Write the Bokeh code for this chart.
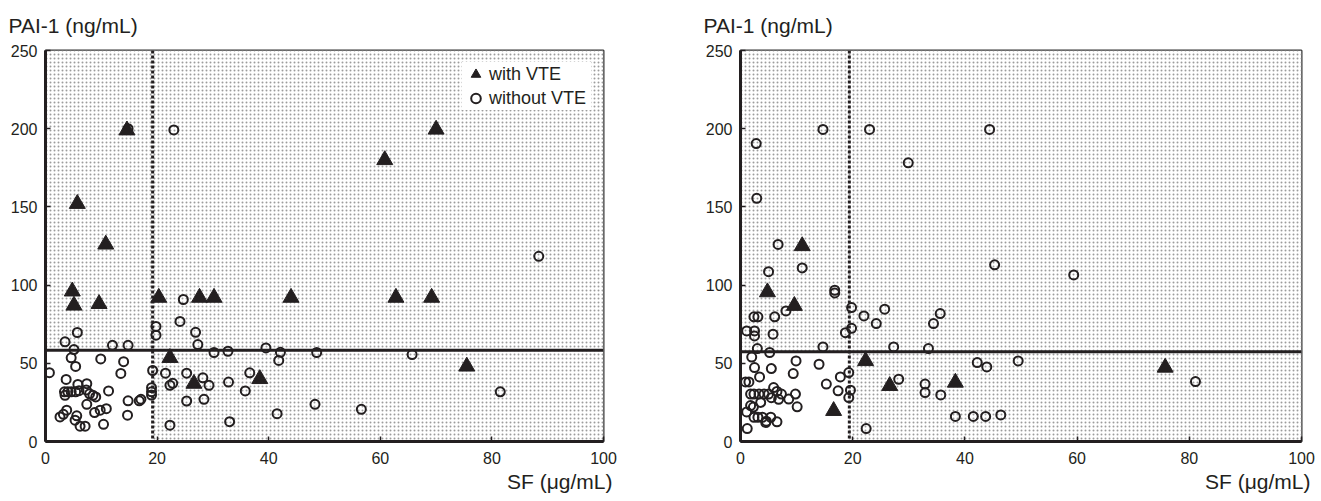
from bokeh.plotting import figure
from bokeh.layouts import row
from bokeh.models import Range1d, FixedTicker, Span, Legend, LegendItem, Title
from bokeh.embed import file_html
from bokeh.resources import INLINE

# ---------------- data ----------------
# Left panel
left_vte_sf = [14.6, 5.7, 10.8, 4.8, 5.1, 9.6, 20.3, 27.6, 30.2, 44.0, 22.3, 26.6, 38.4,
               70.0, 60.8, 62.8, 69.2, 75.5]
left_vte_pai = [199, 152, 126, 96, 87, 88, 92, 92, 92, 92, 53.5, 37, 40,
                199.5, 180, 92, 92, 48]

left_novte_sf = [23.0, 14.8, 88.4, 24.7, 24.1, 19.8, 19.8, 26.9, 27.3, 30.2, 32.7, 39.5,
                 42.1, 41.8, 48.6, 65.7, 5.7, 3.5, 5.1, 4.6, 5.4, 9.9, 12.0, 14.8, 14.0,
                 13.5, 0.7, 3.7, 5.8, 7.4, 3.4, 4.0, 4.6, 5.4, 6.0, 7.3, 7.9, 8.5, 9.0,
                 3.5, 7.4, 11.3, 14.8, 16.8, 17.1, 3.8, 3.2, 2.6, 8.8, 9.8, 10.9, 5.6,
                 5.3, 6.2, 7.1, 10.4, 14.7, 19.2, 19.0, 19.0, 19.0, 21.5, 25.3, 28.2,
                 29.3, 22.3, 22.8, 32.8, 36.6, 35.8, 25.3, 28.4, 48.3, 41.5, 22.3, 33.0,
                 81.5, 56.6]
left_novte_pai = [199.2, 200, 118.4, 90.8, 76.8, 73.6, 68.0, 69.8, 62.0, 56.9, 57.7, 59.8,
                  57.0, 51.8, 56.9, 55.6, 69.7, 63.7, 58.8, 53.5, 48.0, 52.8, 61.5, 61.5, 51.0,
                  43.5, 44.0, 39.7, 36.5, 37.0, 31.8, 31.8, 31.8, 31.8, 32.5, 33.0, 30.5, 29.5, 28.5,
                  29.5, 23.8, 32.3, 26.0, 26.0, 27.0, 20.0, 17.4, 15.7, 18.5, 20.0, 21.0, 16.4,
                  13.6, 9.8, 9.8, 11.0, 16.8, 45.4, 34.4, 31.8, 29.7, 43.7, 43.7, 40.7,
                  35.9, 35.9, 37.2, 38.0, 43.9, 32.3, 25.9, 27.0, 23.8, 17.8, 10.4, 12.7,
                  31.8, 20.6]

# Right panel
right_vte_sf = [11.0, 4.8, 9.6, 22.3, 26.6, 38.3, 16.6, 75.7]
right_vte_pai = [125, 95.5, 86.8, 51.5, 35.6, 37.7, 19.6, 47.3]

right_novte_sf = [2.8, 2.9, 14.7, 23.0, 29.9, 44.4, 6.7, 11.0, 5.0, 16.8, 16.8, 2.4, 3.1,
                  6.1, 8.1, 1.1, 2.5, 2.5, 5.8, 3.0, 18.7, 19.8, 19.8, 22.0, 24.2, 25.7,
                  14.7, 27.3, 33.5, 34.4, 35.6, 2.0, 5.2, 9.9, 2.5, 5.5, 3.4, 0.9, 1.5,
                  9.4, 14.0, 15.3, 17.8, 19.3, 17.4, 19.6, 19.3, 28.2, 32.9, 32.9, 35.7,
                  42.2, 43.9, 38.3, 41.5, 43.7, 46.4, 22.4, 1.2, 45.3, 59.4, 49.5, 81.1,
                  1.8, 2.4, 3.3, 4.2, 5.0, 5.9, 6.5, 7.3, 8.6, 9.8, 10.1, 1.8, 2.3, 3.6,
                  1.1, 2.4, 3.1, 3.9, 4.6, 5.4, 6.5, 4.5, 6.8, 5.5]
right_novte_pai = [190.5, 155.5, 199.5, 199.5, 178.2, 199.5, 126, 111, 108.6, 96.7, 95, 79.7, 79.7,
                   79.7, 83.5, 70.7, 70.7, 67.5, 68.6, 59.4, 69.6, 72.4, 85.6, 80.3, 75.4, 84.6,
                   60.5, 60.5, 59.4, 75.4, 81.8, 54.0, 56.9, 51.5, 47.3, 46.6, 41.3, 38.1, 38.1,
                   43.4, 49.4, 36.7, 41.3, 44.1, 32.4, 32.8, 28.1, 39.8, 36.7, 31.3, 29.8,
                   50.5, 47.7, 16.0, 16.0, 16.0, 17.0, 8.3, 8.3, 113, 106.5, 51.5, 38.3,
                   30.3, 30.3, 30.3, 30.3, 30.3, 34.5, 32.0, 30.3, 27.1, 30.3, 22.2, 23.0, 22.0, 25.0,
                   18.9, 15.5, 15.5, 15.5, 13.0, 15.5, 12.6, 12.1, 27.0, 28.0]

# cut-off values (reference lines)
left_sf_cut, left_pai_cut = 19.2, 58.4
right_sf_cut, right_pai_cut = 19.4, 57.4

x_ticks = [0, 20, 40, 60, 80, 100]
y_ticks = [0, 50, 100, 150, 200, 250]
X_MAX, Y_MAX = 100, 250

y_title = "PAI-1 (ng/mL)"
x_title = "SF (μg/mL)"
legend_labels = ["with VTE", "without VTE"]

FONT = "Liberation Sans"
INK = "#231f20"


def make_panel(width, height, bl, br, bt, bb, vx, vy, nx, ny, sf_cut, pai_cut, with_legend):
    p = figure(width=width, height=height,
               x_range=Range1d(0, X_MAX), y_range=Range1d(0, Y_MAX),
               output_backend="svg", toolbar_location=None,
               min_border_left=bl, min_border_right=br,
               min_border_top=bt, min_border_bottom=bb)
    p.grid.visible = False
    p.background_fill_color = "white"
    p.border_fill_color = "white"
    p.outline_line_color = "#333333"
    p.outline_line_width = 2

    # dotted screen everywhere, white lower-left quadrant
    p.quad(left=[0], right=[X_MAX], bottom=[0], top=[Y_MAX], fill_color="white",
           line_color=None, hatch_pattern="dot", hatch_color="#9c9c9c",
           hatch_scale=4, hatch_weight=1.0)
    p.quad(left=[0], right=[sf_cut], bottom=[0], top=[pai_cut], fill_color="white",
           line_color=None)

    p.add_layout(Span(location=pai_cut, dimension="width", line_color=INK, line_width=3))
    p.add_layout(Span(location=sf_cut, dimension="height", line_color=INK,
                      line_width=3, line_dash="3 2"))

    circ = p.scatter(nx, ny, marker="circle", size=9, fill_color=None,
                     line_color=INK, line_width=2)
    tri = p.scatter(vx, vy, marker="triangle", size=16, fill_color=INK,
                    line_color=INK, line_width=1)

    for ax in (p.xaxis[0], p.yaxis[0]):
        ax.axis_line_width = 3
        ax.axis_line_color = INK
        ax.major_tick_in = 5
        ax.major_tick_out = 0
        ax.major_tick_line_color = INK
        ax.major_tick_line_width = 1.5
        ax.minor_tick_line_color = None
        ax.major_label_text_font = FONT
        ax.major_label_text_font_size = "16px"
        ax.major_label_text_color = INK
    p.xaxis.ticker = FixedTicker(ticks=x_ticks)
    p.yaxis.ticker = FixedTicker(ticks=y_ticks)
    p.xaxis.major_label_standoff = 10
    p.yaxis.major_label_standoff = 8

    p.add_layout(Title(text=y_title, align="left", offset=-37, standoff=24,
                       vertical_align="top",
                       text_font=FONT, text_font_size="21px", text_color=INK,
                       text_font_style="normal"), "above")
    p.add_layout(Title(text=x_title, align="right", offset=-9, standoff=6,
                       vertical_align="top",
                       text_font=FONT, text_font_size="21px", text_color=INK,
                       text_font_style="normal"), "below")

    if with_legend:
        leg = Legend(items=[LegendItem(label=legend_labels[0], renderers=[tri]),
                            LegendItem(label=legend_labels[1], renderers=[circ])],
                     location="top_right", label_text_font=FONT,
                     label_text_font_size="18px", label_text_color=INK,
                     border_line_color=None, background_fill_color="white",
                     background_fill_alpha=1.0, margin=12, padding=1, spacing=0,
                     glyph_width=27, glyph_height=24, label_standoff=0,
                     label_height=20, label_width=102)
        p.add_layout(leg)
    return p


p1 = make_panel(655, 500, 45, 52, 48, 59, left_vte_sf, left_vte_pai,
                left_novte_sf, left_novte_pai, left_sf_cut, left_pai_cut, True)
p2 = make_panel(661, 500, 85, 15, 50, 59, right_vte_sf, right_vte_pai,
                right_novte_sf, right_novte_pai, right_sf_cut, right_pai_cut, False)

layout = row(p1, p2, spacing=0)
open("out.html", "w").write(file_html(layout, INLINE))
